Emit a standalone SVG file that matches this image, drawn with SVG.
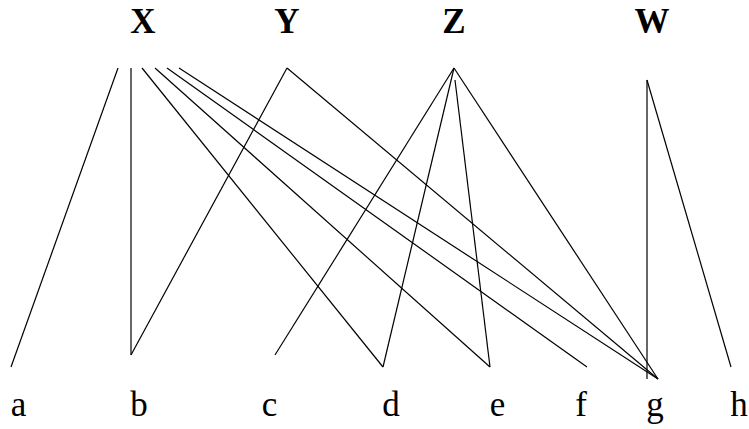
<svg xmlns="http://www.w3.org/2000/svg" width="749" height="429" viewBox="0 0 749 429">
<style>
.top{font-family:"Liberation Serif","Times New Roman",serif;font-weight:bold;font-size:35px;text-anchor:middle;fill:#000}
.bot{font-family:"Liberation Serif","Times New Roman",serif;font-size:35px;text-anchor:middle;fill:#000}
.e{stroke:#000;stroke-width:1.2;fill:none}
</style>
<rect width="749" height="429" fill="#fff"/>
<g id="X"><text class="top" x="143" y="33">X</text></g>
<g id="Y"><text class="top" x="287" y="33">Y</text></g>
<g id="Z"><text class="top" x="454" y="33">Z</text></g>
<g id="W"><text class="top" x="652" y="33">W</text></g>
<g id="a"><text class="bot" x="18.5" y="416">a</text></g>
<g id="b"><text class="bot" x="139" y="416">b</text></g>
<g id="c"><text class="bot" x="269.5" y="416">c</text></g>
<g id="d"><text class="bot" x="391" y="416">d</text></g>
<g id="e"><text class="bot" x="497.5" y="416">e</text></g>
<g id="f"><text class="bot" x="581" y="416">f</text></g>
<g id="g"><text class="bot" x="655" y="416">g</text></g>
<g id="h"><text class="bot" x="739" y="416">h</text></g>
<g id="connectors" class="e">
<line x1="118" y1="68" x2="11" y2="367"/>
<line x1="131" y1="68" x2="131" y2="355"/>
<line x1="142" y1="68" x2="383" y2="367"/>
<line x1="155" y1="68" x2="490" y2="367"/>
<line x1="167" y1="68" x2="587" y2="367"/>
<line x1="179" y1="68" x2="658" y2="379"/>
<line x1="287" y1="68" x2="131" y2="355"/>
<line x1="287" y1="68" x2="658" y2="379"/>
<line x1="454" y1="68" x2="275" y2="355"/>
<line x1="454" y1="68" x2="383" y2="367"/>
<line x1="455" y1="80" x2="490" y2="367"/>
<line x1="454" y1="68" x2="658" y2="379"/>
<line x1="647" y1="80" x2="647" y2="379"/>
<line x1="647" y1="80" x2="731" y2="367"/>
</g>
</svg>
